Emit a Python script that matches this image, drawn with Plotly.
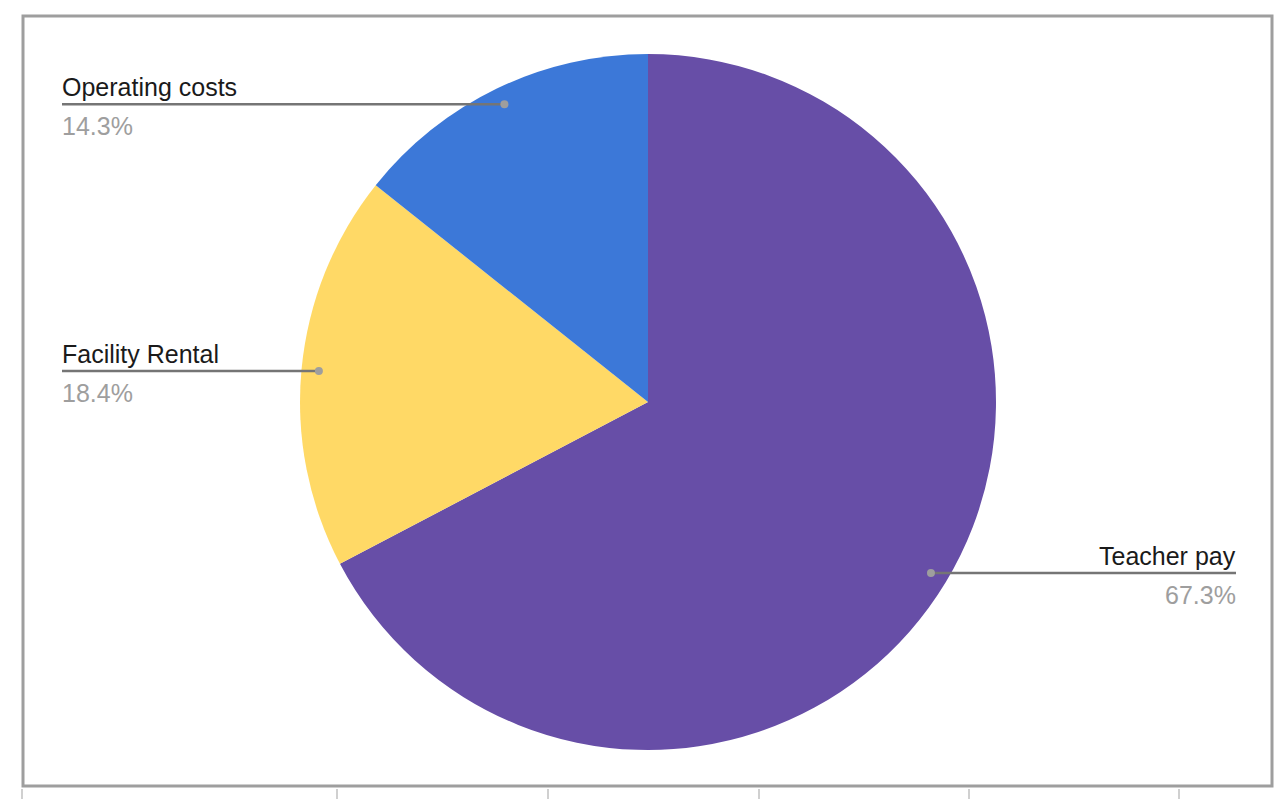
import math
import plotly.graph_objects as go

# ---- data ----
labels = ["Teacher pay", "Facility Rental", "Operating costs"]
values = [67.3, 18.4, 14.3]
colors = ["#674EA7", "#FFD966", "#3C78D8"]

W, H = 1283, 799          # page size
OFF = 8                   # default body margin of the html page
FW, FH = W - OFF, H - OFF # figure size
CX, CY, R = 648, 402, 348 # pie centre / radius in page pixels

fig = go.Figure()
fig.add_trace(go.Pie(
    labels=labels, values=values, sort=False, direction="clockwise", rotation=0,
    marker=dict(colors=colors, line=dict(width=0)),
    textinfo="none", hoverinfo="label+percent", showlegend=False,
    domain=dict(x=[(CX - OFF - R) / FW, (CX - OFF + R) / FW],
                y=[(FH - (CY - OFF) - R) / FH, (FH - (CY - OFF) + R) / FH]),
))

# leader dots / lines / labels computed from the data
total = sum(values)
cum = 0.0
shapes, annotations = [], []
LEFT_X, RIGHT_X = 62, 1236
PAD = 2
FONT = "Liberation Sans, Arial"
for lab, v in zip(labels, values):
    mid = (cum + v / 2) / total * 2 * math.pi
    cum += v
    dx = CX + 0.95 * R * math.sin(mid)
    dy = CY - 0.95 * R * math.cos(mid)
    right = dx > CX
    ex = RIGHT_X if right else LEFT_X
    tx = ex + PAD if right else ex - PAD
    shapes.append(dict(type="line", xref="x", yref="y", x0=dx, y0=dy, x1=ex, y1=dy,
                       line=dict(color="#757575", width=2.5)))
    shapes.append(dict(type="circle", xref="x", yref="y", x0=dx - 4, y0=dy - 4, x1=dx + 4, y1=dy + 4,
                       fillcolor="#9E9E9E", line=dict(width=0)))
    anchor = "right" if right else "left"
    annotations.append(dict(x=tx, y=dy - 1, xref="x", yref="y", text=lab, showarrow=False,
                            xanchor=anchor, yanchor="bottom",
                            font=dict(family=FONT, size=25, color="#1A1A1A")))
    annotations.append(dict(x=tx, y=dy + 6, xref="x", yref="y", text=f"{v / total * 100:.1f}%",
                            showarrow=False, xanchor=anchor, yanchor="top",
                            font=dict(family=FONT, size=25, color="#9E9E9E")))

# chart frame and spreadsheet grid remnants
shapes.append(dict(type="rect", xref="x", yref="y", x0=23, y0=16, x1=1272, y1=786,
                   line=dict(color="#9E9E9E", width=3), layer="below"))
for gx in [22, 337, 548, 759, 969, 1179]:
    shapes.append(dict(type="line", xref="x", yref="y", x0=gx, y0=789, x1=gx, y1=799,
                       line=dict(color="#D0D0D0", width=2), layer="below"))
for gy in range(58, 786, 44):
    shapes.append(dict(type="line", xref="x", yref="y", x0=1275, y0=gy, x1=1283, y1=gy,
                       line=dict(color="#E0E0E0", width=2), layer="below"))

fig.update_layout(
    width=FW, height=FH, margin=dict(l=0, r=0, t=0, b=0),
    paper_bgcolor="white", plot_bgcolor="rgba(0,0,0,0)",
    xaxis=dict(range=[OFF, OFF + FW], visible=False, fixedrange=True),
    yaxis=dict(range=[OFF + FH, OFF], visible=False, fixedrange=True),
    shapes=shapes, annotations=annotations,
)

fig.write_html("out.html")
